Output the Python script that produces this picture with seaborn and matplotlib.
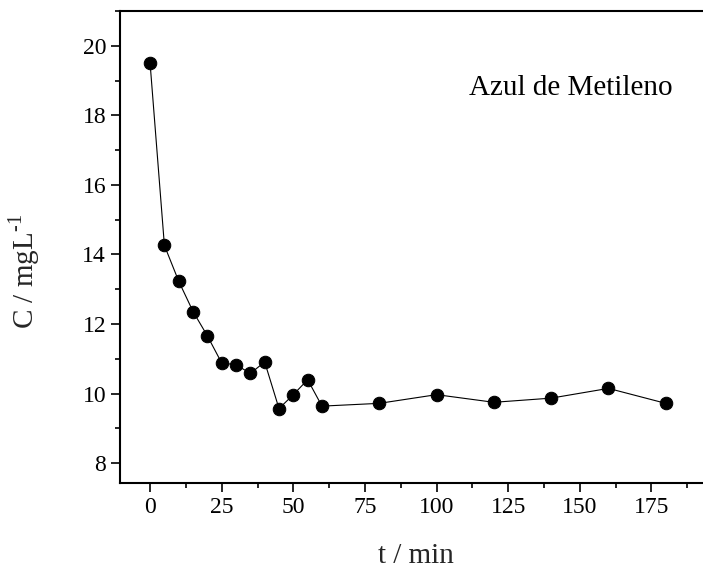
import matplotlib
matplotlib.use("Agg")
import matplotlib.pyplot as plt
import seaborn as sns
import pandas as pd
from matplotlib.ticker import MultipleLocator

t_min = [0, 5, 10, 15, 20, 25, 30, 35, 40, 45, 50, 55, 60, 80, 100, 120, 140, 160, 180]
conc = [19.50, 14.26, 13.23, 12.36, 11.66, 10.88, 10.83, 10.58, 10.91, 9.57, 9.97, 10.40,
        9.64, 9.72, 9.97, 9.75, 9.87, 10.15, 9.72]
x_ticks = [0, 25, 50, 75, 100, 125, 150, 175]
y_ticks = [8, 10, 12, 14, 16, 18, 20]

sns.set_theme(style="ticks")
plt.rcParams['font.family'] = ['Liberation Serif', 'DejaVu Serif']
plt.rcParams['mathtext.fontset'] = 'custom'
plt.rcParams['mathtext.rm'] = 'Liberation Serif'

df = pd.DataFrame({"t": t_min, "C": conc})

fig = plt.figure(figsize=(7.03, 5.69), dpi=100)
ax = fig.add_axes([120/703, 1 - 483/569, 1 - 120/703, (483 - 11)/569])

sns.lineplot(data=df, x="t", y="C", ax=ax, color="black", linewidth=0.8,
             marker="o", markersize=9, markeredgecolor="black", markerfacecolor="black")

ax.set_xlim(-10.5, 193)
ax.set_ylim(7.43, 21)
ax.set_xticks(x_ticks)
ax.set_yticks(y_ticks)
ax.xaxis.set_minor_locator(MultipleLocator(12.5))
ax.yaxis.set_minor_locator(MultipleLocator(1))

for s in ["left", "bottom", "top"]:
    ax.spines[s].set_linewidth(1.5)
    ax.spines[s].set_color("black")
ax.spines["right"].set_visible(False)

ax.tick_params(axis="both", which="major", direction="out", length=6.5, width=1.2,
               labelsize=17, colors="black", pad=3.5)
ax.tick_params(axis="both", which="minor", direction="out", length=3.5, width=1.2, colors="black")
ax.tick_params(top=False, which="both")

ax.set_xlabel("t / min", fontsize=21)
ax.xaxis.label.set_verticalalignment("baseline")
ax.xaxis.set_label_coords(0.508, -0.1695)
ax.set_ylabel("C / mgL$^{\\text{-1}}$", fontsize=21)
ax.yaxis.set_label_coords(-0.1338, 0.449)

ax.text(0.9485, 0.822, "Azul de Metileno", transform=ax.transAxes, ha="right", va="baseline",
        fontsize=21, color="black")

fig.savefig("out.png", dpi=100)
